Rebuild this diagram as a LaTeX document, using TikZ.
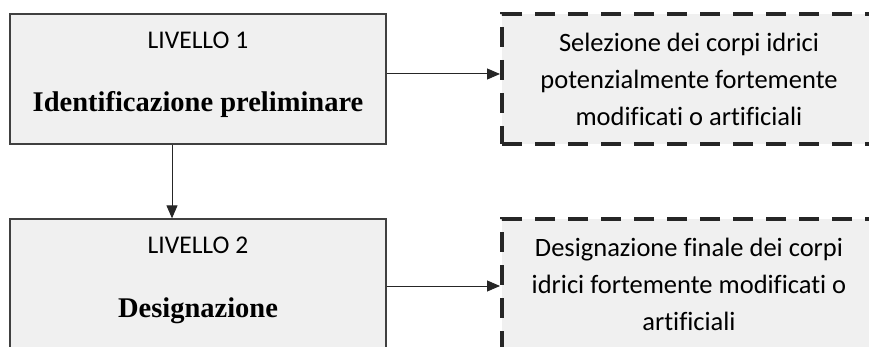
\documentclass[tikz,border=0pt]{standalone}
\usepackage{fontspec}
\setmainfont{Carlito}[Ligatures=CommonOff]
\newfontfamily\titlefont{Liberation Serif}
\usetikzlibrary{arrows.meta}
\definecolor{boxgray}{RGB}{240,240,240}
\definecolor{edgegray}{RGB}{64,64,64}
\definecolor{dashblack}{RGB}{38,38,38}

\begin{document}
\begin{tikzpicture}[x=1pt, y=1pt,
  levelbox/.style={draw=edgegray, line width=1.3pt, fill=boxgray, minimum width=376pt, minimum height=130pt, inner sep=0pt},
  resultbox/.style={draw=dashblack, line width=4pt, dash pattern=on 20pt off 13pt, fill=boxgray, minimum width=374pt, minimum height=130pt, inner sep=0pt, align=center, font=\fontsize{26.5}{37}\selectfont},
  levellabel/.style={anchor=base, font=\fontsize{25.5}{30}\selectfont},
  leveltitle/.style={anchor=base, font=\fontsize{28.5}{34}\selectfont\titlefont\bfseries},
  link/.style={-{Triangle[length=13pt,width=11pt]}, line width=1pt, dashblack}]
\useasboundingbox (0,0) rectangle (869,-347);

% Level 1
\node[levelbox] (lev1) at (198,-79) {};
\node[levellabel] (lev1num) at (198,-49) {LIVELLO 1};
\node[leveltitle] (lev1title) at (198,-112) {Identificazione preliminare};

% Level 2
\node[levelbox] (lev2) at (198,-284) {};
\node[levellabel] (lev2num) at (198,-253) {LIVELLO 2};
\node[leveltitle] (lev2title) at (198,-317) {Designazione};

% Results
\node[resultbox] (res1) at (689,-79) {Selezione dei corpi idrici\\potenzialmente fortemente\\modificati o artificiali};
\node[resultbox] (res2) at (689,-284) {Designazione finale dei corpi\\idrici fortemente modificati o\\artificiali};

% Arrows
\draw[link] ([xshift=-26pt]lev1.south) -- ([xshift=-26pt]lev2.north);
\draw[link] ([yshift=5pt]lev1.east) -- ([yshift=5pt]res1.west);
\draw[link] ([yshift=-2pt]lev2.east) -- ([yshift=-2pt]res2.west);
\end{tikzpicture}
\end{document}
